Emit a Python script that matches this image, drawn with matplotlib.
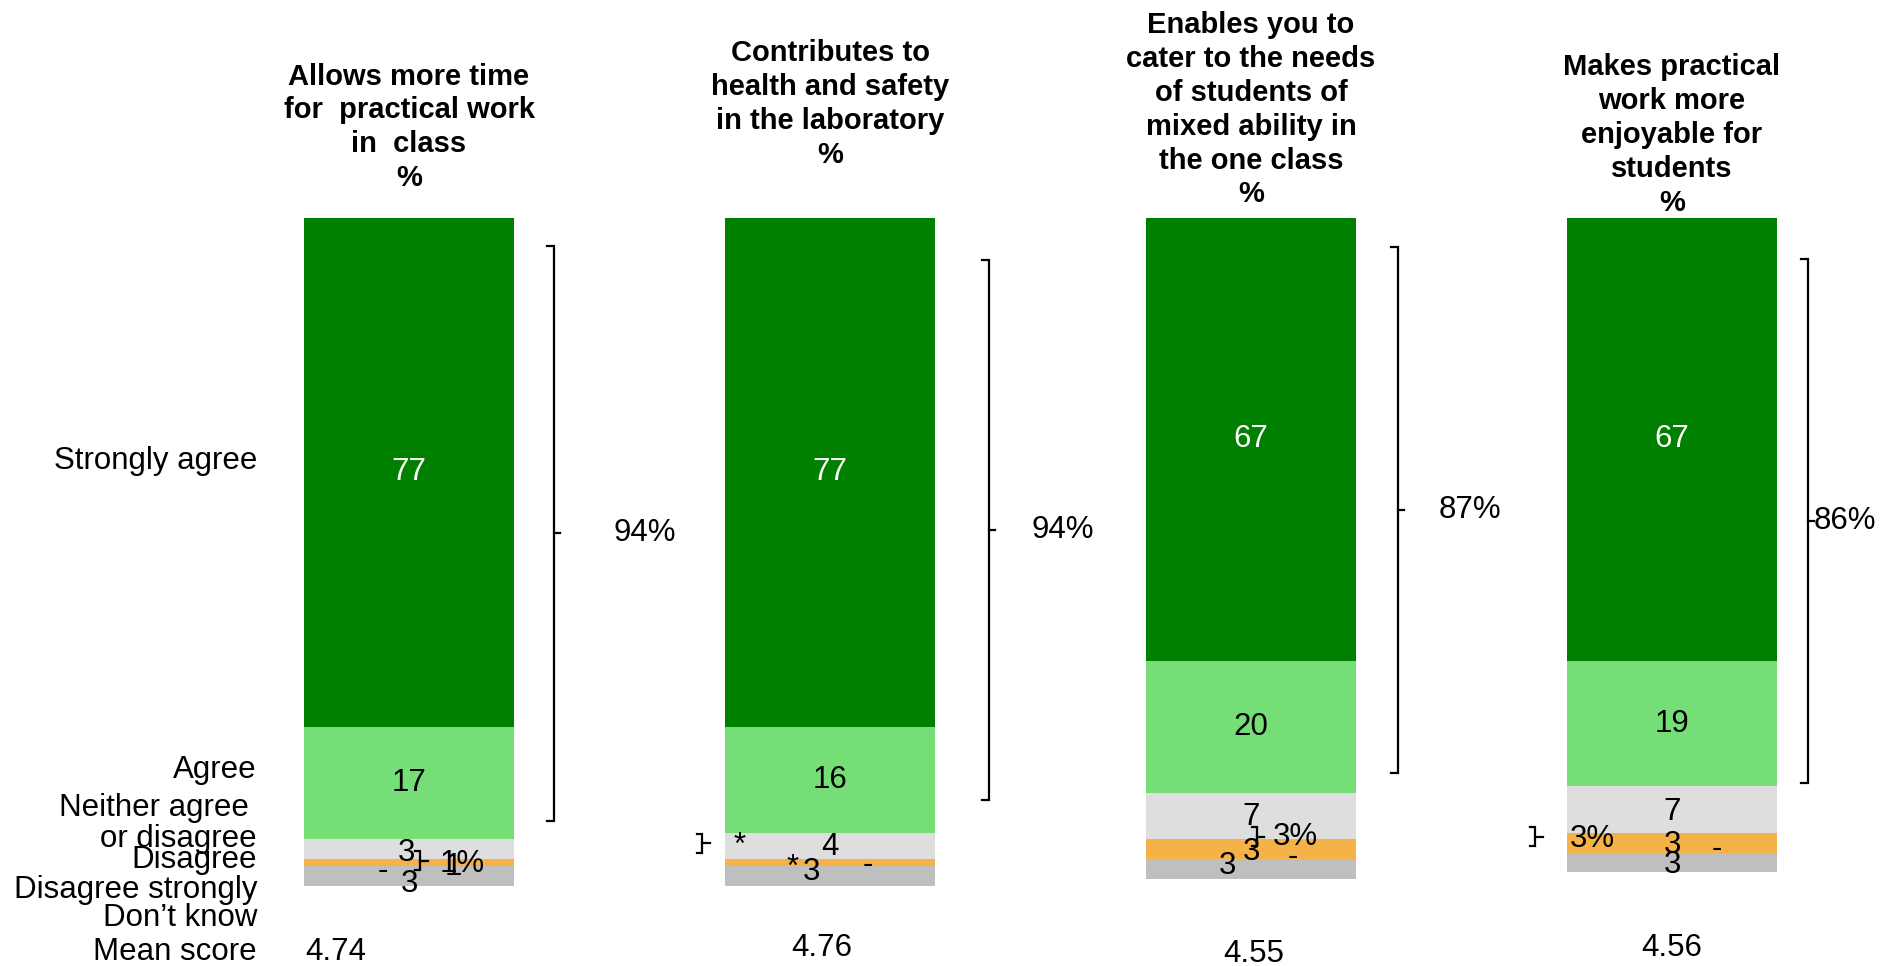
import numpy as np
import matplotlib
matplotlib.use("Agg")
import matplotlib.pyplot as plt

plt.rcParams['font.family'] = ['Liberation Sans', 'DejaVu Sans']

# Survey results, one column per statement (percentages)
statements = [
    "Allows more time\nfor  practical work\nin  class\n%",
    "Contributes to\nhealth and safety\nin the laboratory\n%",
    "Enables you to\ncater to the needs\nof students of\nmixed ability in\nthe one class\n%",
    "Makes practical\nwork more\nenjoyable for\nstudents\n%",
]
responses = ["Strongly agree", "Agree", "Neither agree \nor disagree", "Disagree",
             "Disagree strongly", "Don\u2019t know"]
strongly_agree = [77, 77, 67, 67]
agree = [17, 16, 20, 19]
neither = [3, 4, 7, 7]
disagree = [1, 1, 3, 3]          # '*' in column 2 means less than 0.5%
disagree_strongly = [0, 0, 0, 0]
dont_know = [3, 3, 3, 3]
disagree_labels = ["1", "*", "3", "3"]
strongly_labels = ["-", "-", "-", "-"]
agree_total = ["94%", "94%", "87%", "86%"]
disagree_total = ["1%", "*", "3%", "3%"]
mean_scores = ["4.74", "4.76", "4.55", "4.56"]

colors = ["#008000", "#75DE77", "#DEDEDE", "#F4B247", "#BFBFBF", "#BFBFBF"]

fig = plt.figure(figsize=(18.98, 9.66), dpi=100)
ax = fig.add_axes([0, 0, 1, 1])
ax.set_xlim(-0.9715, 3.5368)
ax.set_ylim(113.16, -32.98)
ax.axis('off')

x = np.arange(len(statements))
series = [strongly_agree, agree, neither, disagree, disagree_strongly, dont_know]
bottom = np.zeros(len(x))
for vals, c in zip(series, colors):
    ax.bar(x, vals, bottom=bottom, width=0.499, color=c, edgecolor='none')
    bottom += np.array(vals)

FS = 22.5
# cumulative segment starts
starts = np.cumsum([np.zeros(4)] + [np.array(s) for s in series[:-1]], axis=0)
mids = [starts[i] + np.array(series[i]) / 2 for i in range(len(series))]

# large value labels
for i in range(4):
    ax.text(x[i], mids[0][i], str(strongly_agree[i]), ha='center', va='center',
            fontsize=FS, color='white')
    ax.text(x[i], mids[1][i], str(agree[i]), ha='center', va='center', fontsize=FS)

# small segment labels (dx, dy offsets per column)
neither_off = [(-0.005, 0.6), (0.0, 0.2), (0.0, 0.1), (0.0, 0.4)]
dis_off = [(0.105, 0.7), (-0.088, 0.8), (0.0, 0.4), (0.0, 0.4)]
sd_off = [(-0.062, 0.8), (0.09, -0.1), (0.1, -0.3), (0.107, -0.5)]
dk_off = [(0.0, 1.2), (-0.043, -0.6), (-0.057, -0.5), (0.0, 0.4)]
for i in range(4):
    ax.text(x[i] + neither_off[i][0], mids[2][i] + neither_off[i][1], str(neither[i]),
            ha='center', va='center', fontsize=FS)
    ax.text(x[i] + dis_off[i][0], mids[3][i] + dis_off[i][1], disagree_labels[i],
            ha='center', va='center', fontsize=FS)
    ax.text(x[i] + sd_off[i][0], mids[4][i] + sd_off[i][1], strongly_labels[i],
            ha='center', va='center', fontsize=FS)
    ax.text(x[i] + dk_off[i][0], mids[5][i] + dk_off[i][1], str(dont_know[i]),
            ha='center', va='center', fontsize=FS)


def bracket(xv, y0, y1, tick_l=0.017, tick_r=0.015):
    ym = (y0 + y1) / 2
    ax.plot([xv - tick_l, xv, xv, xv - tick_l], [y0, y0, y1, y1], color='black', lw=1.6,
            solid_joinstyle='miter')
    ax.plot([xv, xv + tick_r], [ym, ym], color='black', lw=1.6)
    return ym


# agree brackets
net_x = [0.344, 0.378, 0.349, 0.323]
net_top = [4.2, 6.4, 4.4, 6.2]
net_inset = [2.8, 5.0, 3.0, 0.5]
net_label_dx = [0.561, 0.553, 0.520, 0.411]
for i in range(4):
    top_agree = strongly_agree[i] + agree[i]
    ym = bracket(x[i] + net_x[i], net_top[i], top_agree - net_inset[i])
    ax.text(x[i] + net_label_dx[i], ym, agree_total[i], ha='center', va='center',
            fontsize=FS)

# disagree brackets
dis_bx = [0.026, -0.304, 0.014, -0.325]
dis_by = [97.2, 94.6, 93.6, 93.6]
dis_label = [(0.126, 97.7), (-0.214, 95.0), (0.105, 93.6), (-0.19, 93.9)]
for i in range(4):
    bracket(x[i] + dis_bx[i], dis_by[i] - 1.4, dis_by[i] + 1.4, tick_l=0.012, tick_r=0.018)
    ax.text(x[i] + dis_label[i][0], dis_label[i][1], disagree_total[i], ha='center',
            va='center', fontsize=FS)

# column headings
title_y = [-13.7, -17.3, -16.4, -12.6]
for i in range(4):
    ax.text(x[i], title_y[i], statements[i], ha='center', va='center', fontsize=21,
            fontweight='bold', linespacing=1.27, multialignment='center')

# response labels on the left
label_y = [36.8, 83.5, 91.6, 97.1, 101.7, 105.9]
for lab, ly in zip(responses, label_y):
    ax.text(-0.361, ly, lab, ha='right', va='center', fontsize=FS, linespacing=1.05)
ax.text(-0.361, 111.1, "Mean score", ha='right', va='center', fontsize=FS)

mean_dx = [-0.173, -0.02, 0.007, 0.0]
mean_y = [111.1, 110.4, 111.3, 110.4]
for i in range(4):
    ax.text(x[i] + mean_dx[i], mean_y[i], mean_scores[i], ha='center', va='center',
            fontsize=FS)

fig.savefig("out.png", dpi=100)
